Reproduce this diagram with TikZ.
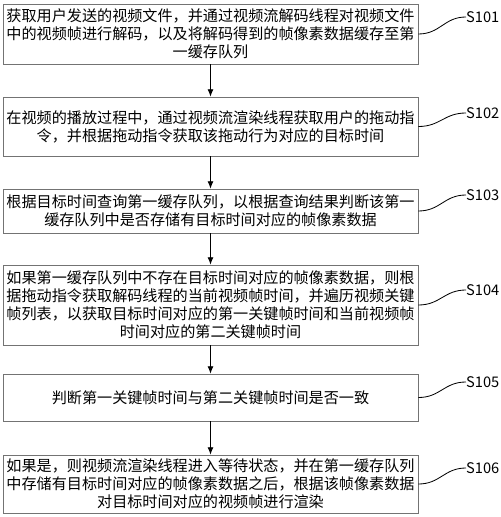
\documentclass[tikz,border=0pt]{standalone}
\usepackage{fontspec}
\setmainfont{Noto Sans CJK SC}
\usetikzlibrary{arrows.meta}

\tikzset{
    stepbox/.style={draw=black!55, line width=0.7pt, minimum width=12.45cm,
        text width=12.3cm, align=center, inner sep=0pt,
        font=\fontsize{12.9pt}{15.4pt}\selectfont},
    steplabel/.style={anchor=west, inner sep=0pt, font=\fontsize{12.5pt}{14pt}\selectfont},
    flow/.style={-{Latex[length=2.2mm,width=1.8mm]}, line width=0.7pt}
}

\begin{document}
\begin{tikzpicture}[x=0.03cm,y=-0.03cm]
    \useasboundingbox (0,0) rectangle (500,517);
    \node[stepbox, minimum height=1.8cm] (s1) at (210.5,34) {获取用户发送的视频文件，并通过视频流解码线程对视频文件\\中的视频帧进行解码，以及将解码得到的帧像素数据缓存至第\\一缓存队列};
    \node[stepbox, minimum height=1.77cm] (s2) at (210.5,126.5) {在视频的播放过程中，通过视频流渲染线程获取用户的拖动指\\令，并根据拖动指令获取该拖动行为对应的目标时间};
    \node[stepbox, minimum height=1.32cm] (s3) at (210.5,211) {根据目标时间查询第一缓存队列，以根据查询结果判断该第一\\缓存队列中是否存储有目标时间对应的帧像素数据};
    \node[stepbox, minimum height=2.4cm] (s4) at (210.5,305) {如果第一缓存队列中不存在目标时间对应的帧像素数据，则根\\据拖动指令获取解码线程的当前视频帧时间，并遍历视频关键\\帧列表，以获取目标时间对应的第一关键帧时间和当前视频帧\\时间对应的第二关键帧时间};
    \node[stepbox, minimum height=1.41cm] (s5) at (210.5,397.5) {判断第一关键帧时间与第二关键帧时间是否一致};
    \node[stepbox, minimum height=1.74cm] (s6) at (210.5,484) {如果是，则视频流渲染线程进入等待状态，并在第一缓存队列\\中存储有目标时间对应的帧像素数据之后，根据该帧像素数据\\对目标时间对应的视频帧进行渲染};
    % arrows between the steps
    \foreach \a/\b in {s1/s2,s2/s3,s3/s4,s4/s5,s5/s6}
        \draw[flow] (\a) -- (\b);
    % step labels
    \foreach \i/\y in {1/17,2/113,3/195,4/290,5/382,6/468} {
        \node[steplabel] (l\i) at (466,\y) {S10\i};
        \draw[line width=0.7pt] (s\i.east) .. controls +(22,0) and +(-22,0) .. (l\i.west);
    }
\end{tikzpicture}
\end{document}
